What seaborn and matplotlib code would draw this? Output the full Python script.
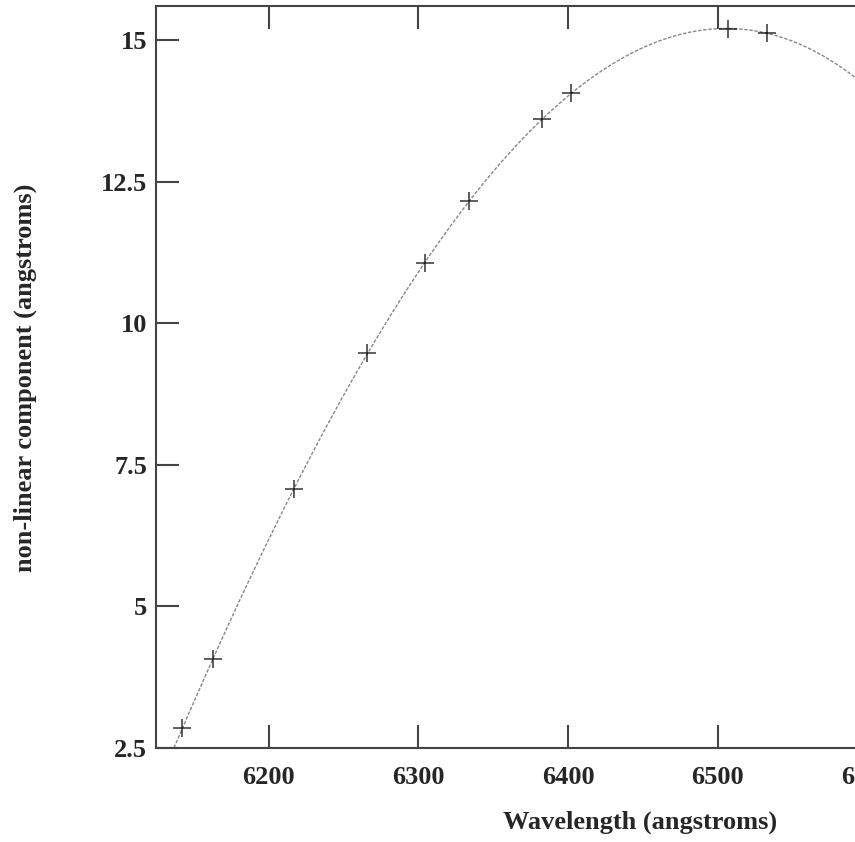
import numpy as np
import pandas as pd
import matplotlib
matplotlib.use('Agg')
import matplotlib.pyplot as plt
import seaborn as sns

# --- Daten ---
wavelength = [6142.1, 6162.8, 6216.7, 6265.9, 6304.2, 6333.8, 6382.8, 6402.2, 6506.8, 6532.9]
nonlinear = [2.86, 4.07, 7.07, 9.47, 11.07, 12.16, 13.60, 14.06, 15.19, 15.13]
x_ticks = [6200, 6300, 6400, 6500, 6600]
y_ticks = [2.5, 5, 7.5, 10, 12.5, 15]
y_tick_labels = ['2.5', '5', '7.5', '10', '12.5', '15']

df = pd.DataFrame({'wavelength': wavelength, 'nonlinear': nonlinear})

sns.set_style('ticks')
plt.rcParams['font.family'] = ['Liberation Serif', 'DejaVu Serif']
plt.rcParams['font.weight'] = 'bold'

frame_col = '#444444'
fs = 19

fig = plt.figure(figsize=(8.55, 8.42), dpi=100)
# Achse ragt rechts aus dem Bild heraus (Original ist abgeschnitten)
ax = fig.add_axes([156 / 855, 94 / 842, 786 / 855, 742 / 842])
# Grenzen vorher setzen, damit truncate=False die Kurve bis zum Rand zieht
ax.set_xlim(6124.5, 6650)
ax.set_ylim(2.5, 15.6)

sns.regplot(data=df, x='wavelength', y='nonlinear', order=3, ci=None, truncate=False,
            marker='+', ax=ax,
            scatter_kws={'color': 'black', 's': 150, 'linewidths': 1.1, 'zorder': 3},
            line_kws={'color': '#888888', 'lw': 1.0, 'ls': (0, (2.5, 1.2)), 'zorder': 2})

ax.set_xlim(6124.5, 6650)
ax.set_ylim(2.5, 15.6)
ax.set_xticks(x_ticks)
ax.set_yticks(y_ticks)
ax.set_yticklabels(y_tick_labels)

ax.tick_params(direction='in', length=16.5, width=1.5, color=frame_col,
               top=True, right=True, labelsize=fs, pad=6.5)
ax.tick_params(axis='x', pad=13)
for sp in ax.spines.values():
    sp.set_color(frame_col)
    sp.set_linewidth(1.5)

for lab in ax.get_xticklabels() + ax.get_yticklabels():
    lab.set_fontweight('bold')

ax.set_xlabel('Wavelength (angstroms)', fontsize=fs, fontweight='bold')
ax.set_ylabel('non-linear component (angstroms)', fontsize=fs, fontweight='bold')
ax.xaxis.set_label_coords((640 - 156) / 786, -63 / 742)
ax.yaxis.set_label_coords(-119 / 786, (842 - 94 - 378) / 742)

fig.savefig('out.png', dpi=100)
